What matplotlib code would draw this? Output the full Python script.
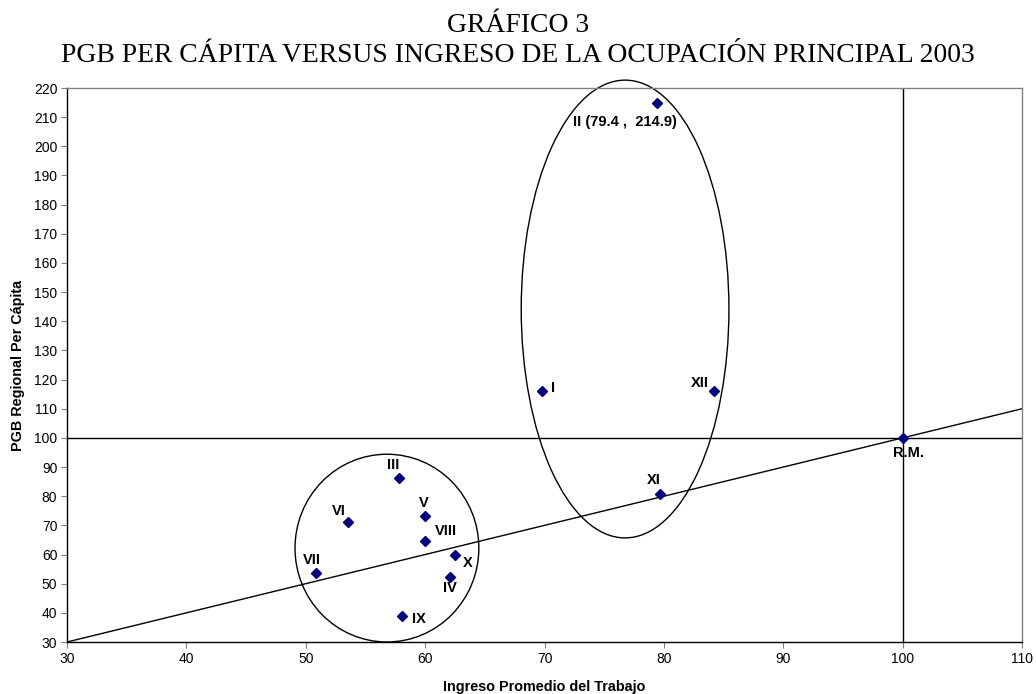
import matplotlib
matplotlib.use("Agg")
import matplotlib.pyplot as plt
from matplotlib.patches import Ellipse

# Regiones: ingreso promedio del trabajo (x) y PGB regional per cápita (y), base R.M. = 100
regiones = ['I', 'II', 'III', 'IV', 'V', 'VI', 'VII', 'VIII', 'IX', 'X', 'XI', 'XII', 'R.M.']
ingreso = [69.8, 79.4, 57.8, 62.1, 60.0, 53.5, 50.9, 60.0, 58.1, 62.5, 79.7, 84.2, 100.0]
pgb = [116.0, 214.9, 86.3, 52.3, 73.3, 71.1, 53.7, 64.8, 39.0, 59.9, 80.9, 116.0, 100.0]

# desplazamiento de cada etiqueta respecto del punto (en pt)
label_offsets = {
    'I': (8, 2), 'II': (-23, -14), 'III': (-4, 9), 'IV': (0, -8), 'V': (-1, 9),
    'VI': (-6, 8), 'VII': (-3, 9), 'VIII': (15, 7), 'IX': (12, -2), 'X': (9, -6),
    'XI': (-5, 10), 'XII': (-10, 6), 'R.M.': (4, -11),
}

x_ticks = list(range(30, 111, 10))
y_ticks = list(range(30, 221, 10))

fig = plt.figure(figsize=(10.36, 6.94), dpi=100)
ax = fig.add_axes([67 / 1036, 1 - 642 / 694, (1022 - 67) / 1036, (642 - 88) / 694])

ax.set_xlim(30, 110)
ax.set_ylim(30, 220)
ax.set_xticks(x_ticks)
ax.set_yticks(y_ticks)

for lab in ax.get_xticklabels() + ax.get_yticklabels():
    lab.set_fontfamily('Liberation Sans')
    lab.set_fontsize(10)
ax.tick_params(direction='out', length=4, width=0.8, color='#808080', pad=3)

ax.spines['left'].set_color('black')
ax.spines['bottom'].set_color('black')
ax.spines['top'].set_color('#808080')
ax.spines['right'].set_color('#808080')
for s in ax.spines.values():
    s.set_linewidth(1.0)

# referencias R.M.
ax.axhline(100, color='black', lw=1.0)
ax.axvline(100, color='black', lw=1.0)
ax.plot([30, 110], [30, 110], color='black', lw=1.0)

ax.plot(ingreso, pgb, linestyle='none', marker='D', markersize=5,
        color='#000080', zorder=5)

for reg, xv, yv in zip(regiones, ingreso, pgb):
    txt = reg
    if reg == 'II':
        txt = f'II ({xv} ,  {yv})'
    ax.annotate(txt, (xv, yv), textcoords='offset points',
                xytext=label_offsets[reg], ha='center', va='center',
                fontsize=10.5, fontweight='bold', family='Liberation Sans')

# agrupaciones
ax.add_patch(Ellipse((56.8, 62.2), 15.4, 64.4, fill=False, ec='black', lw=1.0,
                     clip_on=False))
ax.add_patch(Ellipse((76.75, 144.2), 17.4, 157.0, fill=False, ec='black', lw=1.0,
                     clip_on=False))

ax.set_xlabel('Ingreso Promedio del Trabajo', fontsize=10.4, fontweight='bold',
              family='Liberation Sans', labelpad=10)
ax.set_ylabel('PGB Regional Per Cápita', fontsize=10.4, fontweight='bold',
              family='Liberation Sans', labelpad=6)

fig.text(0.5, 1 - 25 / 694, 'GRÁFICO 3', ha='center', va='center',
         fontsize=19.9, family='Liberation Serif')
fig.text(0.5, 1 - 55 / 694, 'PGB PER CÁPITA VERSUS INGRESO DE LA OCUPACIÓN PRINCIPAL 2003',
         ha='center', va='center', fontsize=19.9, family='Liberation Serif')

fig.savefig('out.png', dpi=100)
